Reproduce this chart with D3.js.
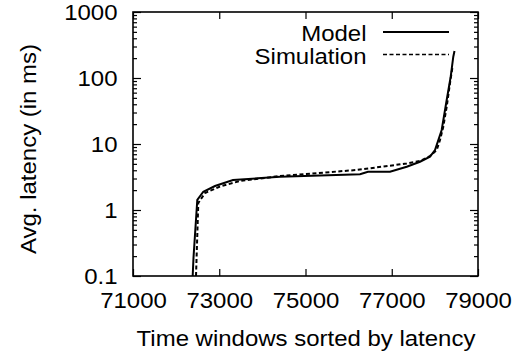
<!DOCTYPE html>
<html>
<head>
<meta charset="utf-8">
<script src="https://cdn.jsdelivr.net/npm/d3@7"></script>
<style>
  body { margin: 0; background: #fff; }
  svg text { font-family: "Liberation Sans", Arial, sans-serif; font-size: 22px; fill: #000; }
</style>
</head>
<body>
<svg id="chart" width="516" height="356"></svg>
<script>
// values
var modelX = [72384, 72403, 72491, 72630, 72901, 73319, 74409, 76264, 76449, 76959, 77347, 77655, 77887, 78003, 78158, 78274, 78367, 78427, 78455];
var modelY = [0.1, 0.19, 1.42, 1.89, 2.31, 2.85, 3.19, 3.48, 3.80, 3.80, 4.53, 5.39, 6.42, 8.11, 16.3, 46.4, 105, 210, 257];
var simX = [72461, 72514, 72670, 73017, 73481, 74409, 76187, 76959, 77347, 77655, 77887, 78042, 78119, 78195, 78274, 78350, 78409];
var simY = [0.1, 1.28, 1.81, 2.27, 2.75, 3.27, 4.04, 4.69, 5.07, 5.52, 6.57, 8.11, 11.5, 18.3, 36.7, 83, 147];
var xTicks = [71000, 73000, 75000, 77000, 79000];
var yTicks = [0.1, 1, 10, 100, 1000];
var seriesNames = ['Model', 'Simulation'];

var mLeft = 133, mRight = 478, mTop = 12, mBottom = 276;
var stretch = 1.09; // reference font is a bit wider than Liberation Sans

var svg = d3.select('#chart');

var x = d3.scaleLinear().domain([71000, 79000]).range([mLeft, mRight]);
var y = d3.scaleLog().domain([0.1, 1000]).range([mBottom, mTop]);

var minorY = [];
yTicks.slice(0, -1).forEach(function(d) {
	for (var k = 2; k <= 9; k++) minorY.push(d * k);
});

function styleAxis(g) {
	g.select('.domain').remove();
	g.selectAll('line').attr('stroke', '#000').attr('stroke-width', 1.2);
}

// bottom axis with labels
svg.append('g')
	.attr('transform', 'translate(0,' + mBottom + ')')
	.call(d3.axisBottom(x).tickValues(xTicks).tickSize(-7).tickFormat(d3.format('d')))
	.call(styleAxis)
	.selectAll('text')
	.attr('font-size', 22).attr('font-family', null)
	.attr('y', 32.5).attr('dy', 0)
	.attr('transform', 'scale(' + stretch + ',1)');

// top axis mirror
svg.append('g')
	.attr('transform', 'translate(0,' + mTop + ')')
	.call(d3.axisTop(x).tickValues(xTicks).tickSize(-7).tickFormat(''))
	.call(styleAxis);

// left axis labels + major ticks
svg.append('g')
	.attr('transform', 'translate(' + mLeft + ',0)')
	.call(d3.axisLeft(y).tickValues(yTicks).tickSize(-8).tickFormat(function(d) { return d < 1 ? '0.1' : d3.format('d')(d); }))
	.call(styleAxis)
	.selectAll('text')
	.attr('font-size', 22).attr('font-family', null)
	.attr('x', -15.5 / stretch).attr('dy', '0.36em')
	.attr('transform', 'scale(' + stretch + ',1)');

svg.append('g')
	.attr('transform', 'translate(' + mLeft + ',0)')
	.call(d3.axisLeft(y).tickValues(minorY).tickSize(-4).tickFormat(''))
	.call(styleAxis);

// right axis mirror
svg.append('g')
	.attr('transform', 'translate(' + mRight + ',0)')
	.call(d3.axisRight(y).tickValues(yTicks).tickSize(-8).tickFormat(''))
	.call(styleAxis);

svg.append('g')
	.attr('transform', 'translate(' + mRight + ',0)')
	.call(d3.axisRight(y).tickValues(minorY).tickSize(-4).tickFormat(''))
	.call(styleAxis);

// frame
svg.append('rect')
	.attr('x', mLeft).attr('y', mTop)
	.attr('width', mRight - mLeft).attr('height', mBottom - mTop)
	.attr('fill', 'none').attr('stroke', '#000').attr('stroke-width', 1.6);

var line = d3.line()
	.x(function(d) { return x(d[0]); })
	.y(function(d) { return y(d[1]); });

svg.append('path')
	.datum(d3.zip(modelX, modelY))
	.attr('d', line)
	.attr('fill', 'none').attr('stroke', '#000').attr('stroke-width', 2);

svg.append('path')
	.datum(d3.zip(simX, simY))
	.attr('d', line)
	.attr('fill', 'none').attr('stroke', '#000').attr('stroke-width', 2)
	.attr('stroke-dasharray', '4,2.5');

// legend
var legend = svg.append('g');
seriesNames.forEach(function(name, i) {
	var ly = 32 + i * 22.5;
	legend.append('text')
		.attr('transform', 'translate(366.5,' + (ly + 9) + ') scale(' + stretch + ',1)')
		.attr('text-anchor', 'end').text(name);
	legend.append('line')
		.attr('x1', 383).attr('x2', 449).attr('y1', ly).attr('y2', ly)
		.attr('stroke', '#000').attr('stroke-width', i ? 1.6 : 2)
		.attr('stroke-dasharray', i ? '4,2.5' : null);
});

// axis titles
svg.append('text')
	.attr('transform', 'translate(' + ((mLeft + mRight) / 2 + 0.5) + ',346) scale(' + stretch + ',1)')
	.attr('text-anchor', 'middle')
	.text('Time windows sorted by latency');

svg.append('text')
	.attr('transform', 'translate(36,149) rotate(-90) scale(' + stretch + ',1)')
	.attr('text-anchor', 'middle')
	.text('Avg. latency (in ms)');
</script>
</body>
</html>
